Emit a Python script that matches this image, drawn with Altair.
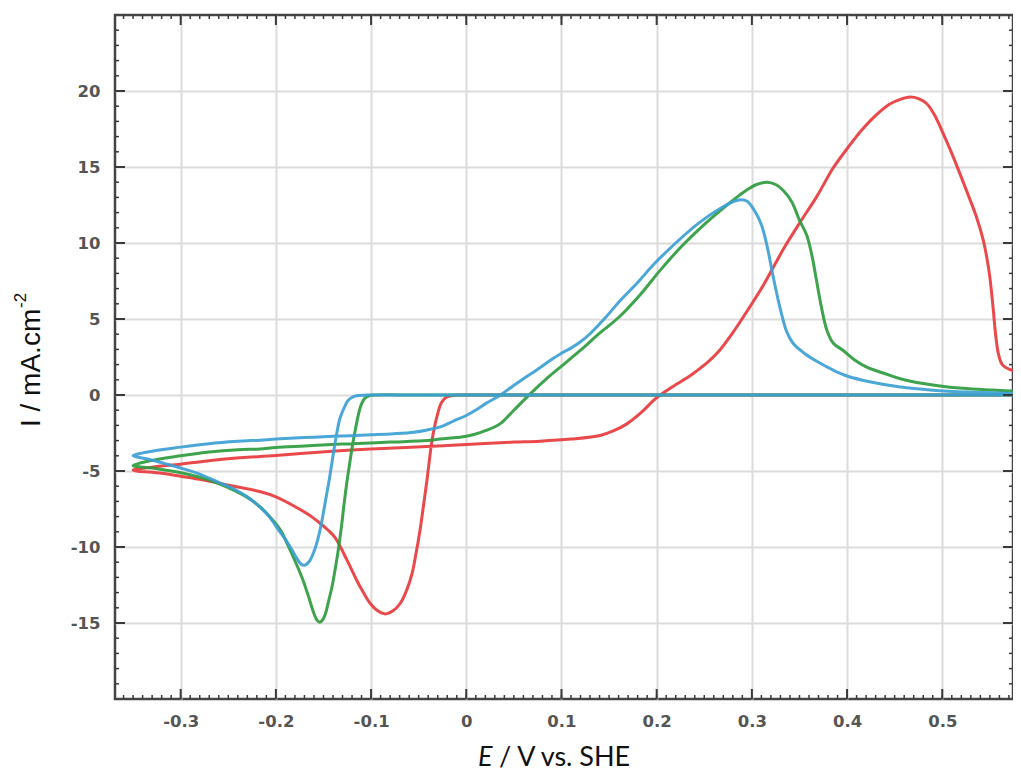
import altair as alt
import pandas as pd

# ---------------- data (path order: cathodic sweep, then anodic) -------------
red_E = [0.583, 0.3, 0.1, 0.02, -0.005, -0.015, -0.021, -0.026, -0.031, -0.036, -0.0413, -0.045,
         -0.0486, -0.053, -0.057, -0.063, -0.0693, -0.077, -0.085, -0.093, -0.101, -0.108, -0.115,
         -0.125, -0.1376, -0.145, -0.153, -0.165, -0.181, -0.2, -0.217, -0.24, -0.26, -0.28, -0.3,
         -0.32, -0.35,
         -0.33, -0.3, -0.25, -0.2, -0.141, -0.1, -0.0413, 0.0147, 0.05, 0.0774, 0.11, 0.1407, 0.155,
         0.1687, 0.183, 0.1967, 0.2036, 0.2107, 0.222, 0.2355, 0.2455, 0.256, 0.266, 0.28, 0.2977,
         0.31, 0.3225, 0.335, 0.35, 0.3686, 0.385, 0.4, 0.415, 0.431, 0.445, 0.456, 0.4664, 0.475,
         0.4838, 0.492, 0.501, 0.51, 0.5186, 0.527, 0.536, 0.543, 0.549, 0.553, 0.556, 0.559, 0.563,
         0.57, 0.583]
red_I = [0.0, 0.0, 0.0, 0.0, 0.0, -0.03, -0.15, -0.5, -1.46, -3.0, -5.6, -7.3,
         -8.9, -10.5, -11.76, -12.9, -13.7, -14.2, -14.4, -14.2, -13.7, -13.0, -12.2,
         -10.9, -9.4, -8.9, -8.47, -7.9, -7.3, -6.7, -6.35, -6.05, -5.8, -5.55, -5.35,
         -5.15, -4.95,
         -4.75, -4.55, -4.2, -3.98, -3.7, -3.55, -3.39, -3.2, -3.1, -3.04, -2.9, -2.66, -2.35,
         -1.9, -1.2, -0.36, 0.0, 0.3, 0.75, 1.28, 1.75, 2.3, 2.93, 4.1, 5.78,
         7.0, 8.4, 9.8, 11.3, 13.1, 14.9, 16.2, 17.4, 18.45, 19.15, 19.45, 19.6, 19.5,
         19.16, 18.4, 17.2, 15.9, 14.55, 13.2, 11.7, 10.2, 8.2, 6.0, 4.0, 2.7, 2.0,
         1.7, 1.5]

green_E = [0.583, 0.3, 0.1, -0.05, -0.095, -0.102, -0.107, -0.1113, -0.1166, -0.1195, -0.1225,
           -0.126, -0.1288, -0.131, -0.134, -0.137, -0.141, -0.144, -0.148, -0.151, -0.154, -0.157,
           -0.161, -0.166, -0.172, -0.18, -0.188, -0.195, -0.205, -0.217, -0.23, -0.25, -0.27,
           -0.29, -0.31, -0.33, -0.35,
           -0.33, -0.3, -0.27, -0.24, -0.217, -0.2, -0.17, -0.141, -0.12, -0.08, -0.041, -0.0275,
           -0.01, 0.0, 0.008, 0.02, 0.0354, 0.05, 0.0637, 0.076, 0.088, 0.104, 0.1197, 0.1407,
           0.16, 0.1827, 0.2036, 0.225, 0.2527, 0.27, 0.284, 0.295, 0.305, 0.3157, 0.325, 0.333,
           0.342, 0.35, 0.3577, 0.363, 0.368, 0.373, 0.3786, 0.3856, 0.396, 0.408, 0.4206, 0.44,
           0.456, 0.48, 0.508, 0.545, 0.583]
green_I = [0.0, 0.0, 0.0, 0.0, 0.0, -0.05, -0.25, -0.8, -2.3, -3.3, -4.5,
           -6.0, -7.4, -8.6, -10.0, -11.2, -12.6, -13.4, -14.4, -14.8, -14.95, -14.8,
           -14.2, -13.2, -12.1, -10.9, -9.8, -8.9, -8.1, -7.35, -6.75, -6.1, -5.6,
           -5.25, -5.0, -4.8, -4.65,
           -4.3, -4.0, -3.75, -3.6, -3.55, -3.45, -3.35, -3.25, -3.2, -3.1, -3.0, -2.9,
           -2.8, -2.72, -2.6, -2.35, -1.9, -1.0, -0.14, 0.6, 1.28, 2.1, 2.93, 4.1,
           5.1, 6.6, 8.2, 9.7, 11.37, 12.3, 13.0, 13.5, 13.85, 14.0, 13.85, 13.45,
           12.7, 11.5, 10.5, 9.2, 7.5, 5.8, 4.3, 3.4, 2.93, 2.3, 1.83, 1.4,
           1.07, 0.75, 0.51, 0.35, 0.25]

blue_E = [0.583, 0.3, 0.1, -0.05, -0.1, -0.112, -0.119, -0.124, -0.128, -0.1325, -0.136, -0.14,
          -0.144, -0.148, -0.152, -0.156, -0.16, -0.165, -0.17, -0.174, -0.178, -0.183, -0.19,
          -0.198, -0.207, -0.217, -0.23, -0.245, -0.26, -0.28, -0.3, -0.32, -0.335, -0.35,
          -0.33, -0.3, -0.27, -0.24, -0.217, -0.2, -0.17, -0.14, -0.1, -0.076, -0.055, -0.041,
          -0.0275, -0.013, 0.0, 0.011, 0.022, 0.034, 0.047, 0.06, 0.074, 0.088, 0.1, 0.109, 0.12,
          0.13, 0.1477, 0.1615, 0.18, 0.197, 0.22, 0.2455, 0.265, 0.28, 0.288, 0.295, 0.303, 0.31,
          0.316, 0.322, 0.3297, 0.337, 0.3437, 0.355, 0.37, 0.385, 0.4, 0.425, 0.456, 0.49, 0.526,
          0.583]
blue_I = [0.0, 0.0, 0.0, 0.0, 0.0, -0.03, -0.12, -0.35, -0.8, -1.5, -2.5, -4.0,
          -5.6, -7.0, -8.4, -9.5, -10.3, -10.95, -11.2, -11.1, -10.75, -10.2, -9.5,
          -8.8, -8.0, -7.35, -6.7, -6.15, -5.75, -5.2, -4.8, -4.45, -4.2, -4.0,
          -3.7, -3.43, -3.2, -3.05, -2.97, -2.9, -2.8, -2.72, -2.62, -2.55, -2.45, -2.3,
          -2.1, -1.7, -1.35, -0.95, -0.5, -0.08, 0.5, 1.07, 1.65, 2.27, 2.75, 3.05, 3.5,
          4.03, 5.2, 6.2, 7.4, 8.6, 10.0, 11.37, 12.2, 12.7, 12.85, 12.75, 12.1, 11.2,
          9.8, 7.9, 5.7, 4.1, 3.37, 2.75, 2.15, 1.65, 1.25, 0.85, 0.52, 0.32, 0.2,
          0.1]

curve_names = ["red", "green", "blue"]
curve_colors = ["#e8393d", "#2e9b3e", "#3b9fd4"]

x_major = [-0.3, -0.2, -0.1, 0, 0.1, 0.2, 0.3, 0.4, 0.5]
y_major = [-15, -10, -5, 0, 5, 10, 15, 20]
x_minor = [round(-0.36 + 0.01 * k, 2) for k in range(94)]
y_minor = list(range(-19, 25))

X_DOMAIN = [-0.369, 0.5743]
Y_DOMAIN = [-20, 25]
W, H = 898, 684

rows = []
for name, E, I in [("red", red_E, red_I), ("green", green_E, green_I), ("blue", blue_E, blue_I)]:
    for k, (e, i) in enumerate(zip(E, I)):
        rows.append({"curve": name, "E": e, "I": i, "k": k})
df = pd.DataFrame(rows)

lab = dict(labelFont="DejaVu Sans", labelFontWeight="bold", labelFontSize=16.5,
           labelColor="#555555", ticks=False, domain=False, grid=True,
           gridColor="#dcdcdc", gridWidth=2, title=None,
           labelExpr="'' + datum.value")
X_AX = alt.Axis(values=x_major, labelPadding=14, **lab)
Y_AX = alt.Axis(values=y_major, labelPadding=15, **lab)
XS = alt.Scale(domain=X_DOMAIN, nice=False, zero=False)
YS = alt.Scale(domain=Y_DOMAIN, nice=False, zero=False)

lines = alt.Chart(df).mark_line(strokeWidth=3, interpolate="catmull-rom", clip=True,
                                opacity=0.92).encode(
    x=alt.X("E:Q", scale=XS, axis=X_AX),
    y=alt.Y("I:Q", scale=YS, axis=Y_AX),
    color=alt.Color("curve:N", scale=alt.Scale(domain=curve_names, range=curve_colors),
                    legend=None, sort=curve_names),
    order="k:Q",
)

def xticks(vals, length, width):
    d = pd.DataFrame({"E": vals})
    base = alt.Chart(d).mark_rule(color="#3a3a3a", strokeWidth=width)
    bot = base.encode(x=alt.X("E:Q", scale=XS, axis=X_AX), y=alt.value(H), y2=alt.value(H - length))
    top = base.encode(x=alt.X("E:Q", scale=XS, axis=X_AX), y=alt.value(0), y2=alt.value(length))
    return [bot, top]

def yticks(vals, length, width):
    d = pd.DataFrame({"I": vals})
    base = alt.Chart(d).mark_rule(color="#3a3a3a", strokeWidth=width)
    left = base.encode(y=alt.Y("I:Q", scale=YS, axis=Y_AX), x=alt.value(0), x2=alt.value(length))
    right = base.encode(y=alt.Y("I:Q", scale=YS, axis=Y_AX), x=alt.value(W), x2=alt.value(W - length))
    return [left, right]

tick_layers = xticks(x_minor, 4, 1.5) + xticks(x_major, 10, 2) + yticks(y_minor, 4, 1.5) + yticks(y_major, 10, 2)

one = pd.DataFrame({"a": [0]})
xt1 = alt.Chart(one).mark_text(text="E", font="Lato", fontSize=27, fontStyle="italic",
                               align="left", baseline="alphabetic", color="#111111").encode(
    x=alt.value(363), y=alt.value(751))
xt2 = alt.Chart(one).mark_text(text="/ V vs. SHE", font="Lato", fontSize=27,
                               align="left", baseline="alphabetic", color="#111111").encode(
    x=alt.value(384), y=alt.value(751))
yt1 = alt.Chart(one).mark_text(text="I / mA.cm", font="Liberation Sans", fontSize=28, angle=270,
                               align="left", baseline="alphabetic", color="#111111").encode(
    x=alt.value(-75), y=alt.value(412))
yt2 = alt.Chart(one).mark_text(text="-2", font="Liberation Sans", fontSize=17, angle=270,
                               align="left", baseline="alphabetic", color="#111111").encode(
    x=alt.value(-89), y=alt.value(293))

chart = alt.layer(lines, *tick_layers, xt1, xt2, yt1, yt2).properties(
    width=W, height=H,
    autosize=alt.AutoSizeParams(type="none"),
    padding={"left": 107, "top": 7, "right": 0, "bottom": 76},
).configure_view(stroke="#444444", strokeWidth=2.5)

chart.save("out.html", embed_options={"renderer": "svg", "actions": False})
